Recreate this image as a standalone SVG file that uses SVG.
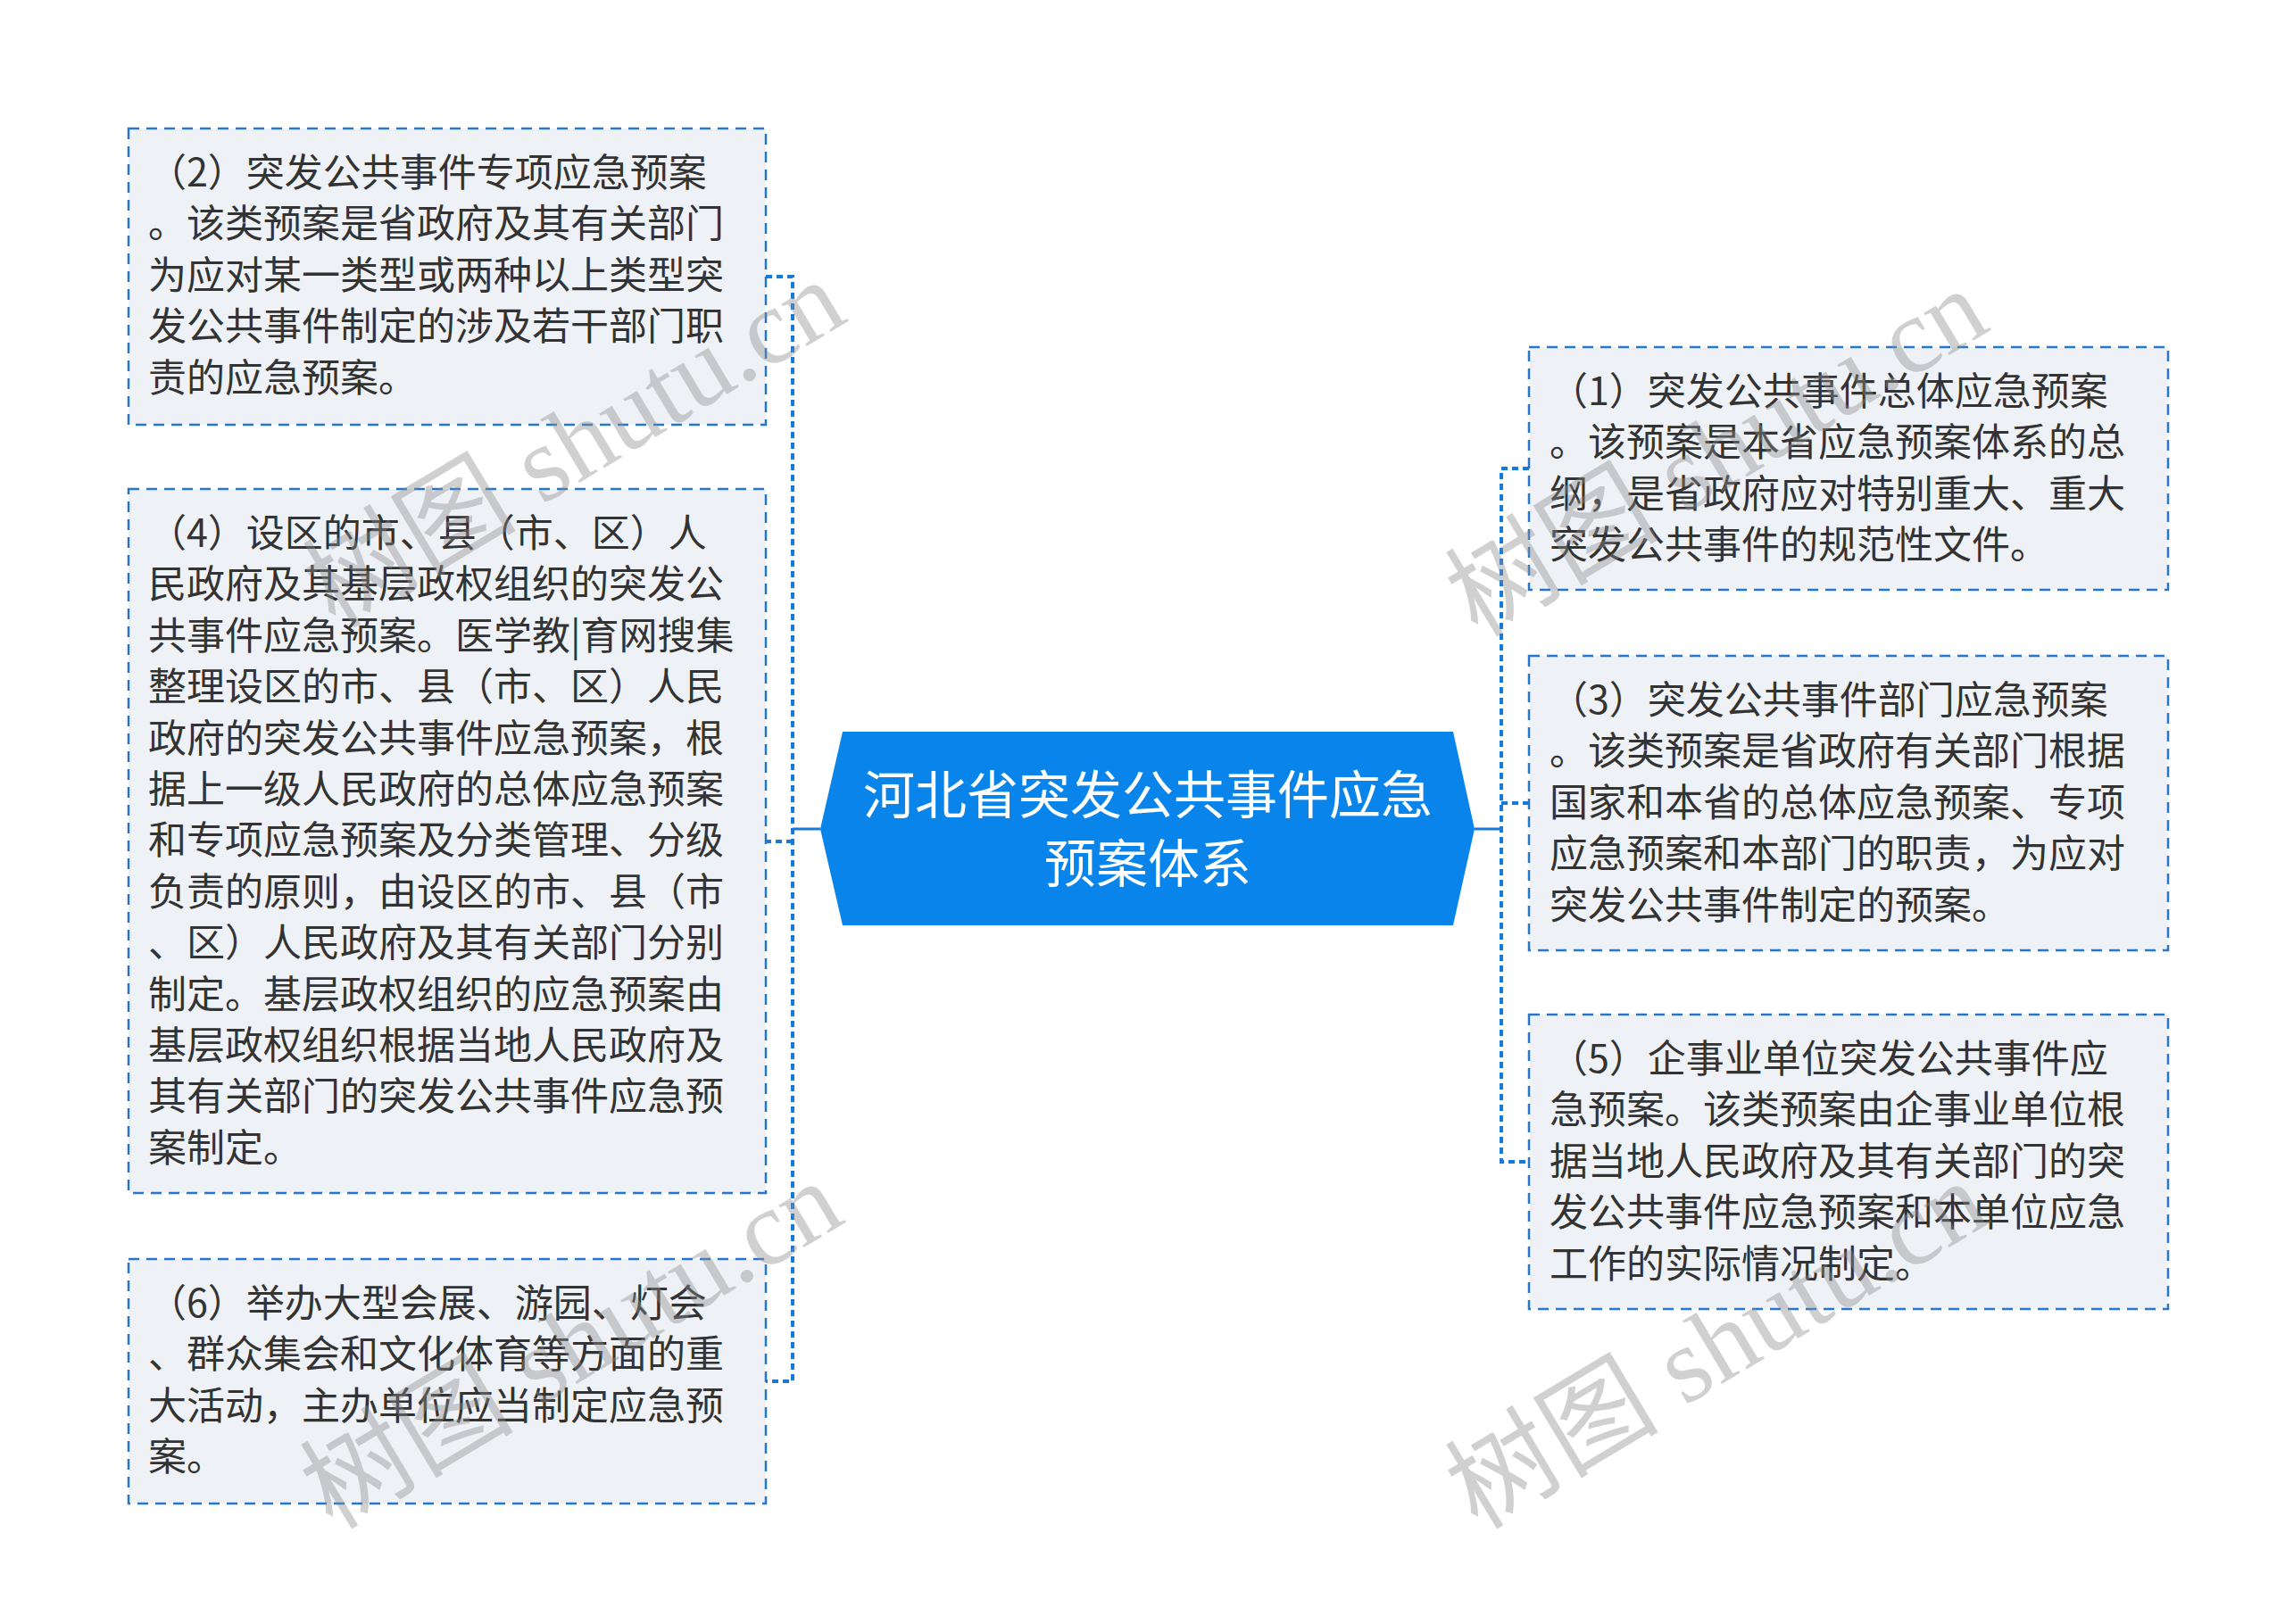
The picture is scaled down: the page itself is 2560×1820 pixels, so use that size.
<svg xmlns="http://www.w3.org/2000/svg" width="2560" height="1820" viewBox="0 0 2560 1820">
<style>
.box{fill:#eef2f6;stroke:#2677cc;stroke-width:2.5;stroke-dasharray:12 8}
.t{font-family:"Noto Sans CJK SC","Noto Sans",sans-serif;font-size:43px;fill:#333333}
.ct{font-family:"Noto Sans CJK SC","Noto Sans",sans-serif;font-size:58px;fill:#ffffff;text-anchor:middle}
.br{fill:none;stroke:#1a78d6;stroke-width:4;stroke-dasharray:7 5}
.sl{fill:none;stroke:#1a78d6;stroke-width:3}
.wm{font-family:"Liberation Serif","Noto Sans CJK SC",serif;font-size:120px;fill:#8c8c8c;opacity:0.4}
</style>
<rect width="2560" height="1820" fill="#ffffff"/>
<g id="connectors">
<path class="sl" d="M919,929 H888"/>
<path class="br" d="M858,310 H888 V1548 H858"/>
<path class="br" d="M888,943 H858"/>
<path class="sl" d="M1652,929 H1682"/>
<path class="br" d="M1713,525 H1682 V1302 H1713"/>
<path class="br" d="M1682,900 H1713"/>
</g>
<g id="center">
<polygon points="944,820 1628,820 1652,929 1628,1037 944,1037 919,929" fill="#0984ea"/>
<text class="ct" x="1286" y="912">河北省突发公共事件应急</text>
<text class="ct" x="1286" y="989">预案体系</text>
</g>
<g id="node2">
<rect class="box" x="144" y="144" width="714" height="332"/>
<text class="t" x="166" y="209">（2）突发公共事件专项应急预案</text>
<text class="t" x="166" y="266">。该类预案是省政府及其有关部门</text>
<text class="t" x="166" y="324">为应对某一类型或两种以上类型突</text>
<text class="t" x="166" y="381">发公共事件制定的涉及若干部门职</text>
<text class="t" x="166" y="439">责的应急预案。</text>
</g>
<g id="node4">
<rect class="box" x="144" y="548" width="714" height="789"/>
<text class="t" x="166" y="613">（4）设区的市、县（市、区）人</text>
<text class="t" x="166" y="670">民政府及其基层政权组织的突发公</text>
<text class="t" x="166" y="728">共事件应急预案。医学教|育网搜集</text>
<text class="t" x="166" y="785">整理设区的市、县（市、区）人民</text>
<text class="t" x="166" y="843">政府的突发公共事件应急预案，根</text>
<text class="t" x="166" y="900">据上一级人民政府的总体应急预案</text>
<text class="t" x="166" y="957">和专项应急预案及分类管理、分级</text>
<text class="t" x="166" y="1015">负责的原则，由设区的市、县（市</text>
<text class="t" x="166" y="1072">、区）人民政府及其有关部门分别</text>
<text class="t" x="166" y="1130">制定。基层政权组织的应急预案由</text>
<text class="t" x="166" y="1187">基层政权组织根据当地人民政府及</text>
<text class="t" x="166" y="1244">其有关部门的突发公共事件应急预</text>
<text class="t" x="166" y="1302">案制定。</text>
</g>
<g id="node6">
<rect class="box" x="144" y="1411" width="714" height="274"/>
<text class="t" x="166" y="1476">（6）举办大型会展、游园、灯会</text>
<text class="t" x="166" y="1533">、群众集会和文化体育等方面的重</text>
<text class="t" x="166" y="1591">大活动，主办单位应当制定应急预</text>
<text class="t" x="166" y="1648">案。</text>
</g>
<g id="node1">
<rect class="box" x="1713" y="389" width="716" height="272"/>
<text class="t" x="1736" y="454">（1）突发公共事件总体应急预案</text>
<text class="t" x="1736" y="511">。该预案是本省应急预案体系的总</text>
<text class="t" x="1736" y="569">纲，是省政府应对特别重大、重大</text>
<text class="t" x="1736" y="626">突发公共事件的规范性文件。</text>
</g>
<g id="node3">
<rect class="box" x="1713" y="735" width="716" height="330"/>
<text class="t" x="1736" y="800">（3）突发公共事件部门应急预案</text>
<text class="t" x="1736" y="857">。该类预案是省政府有关部门根据</text>
<text class="t" x="1736" y="915">国家和本省的总体应急预案、专项</text>
<text class="t" x="1736" y="972">应急预案和本部门的职责，为应对</text>
<text class="t" x="1736" y="1030">突发公共事件制定的预案。</text>
</g>
<g id="node5">
<rect class="box" x="1713" y="1137" width="716" height="330"/>
<text class="t" x="1736" y="1202">（5）企事业单位突发公共事件应</text>
<text class="t" x="1736" y="1259">急预案。该类预案由企事业单位根</text>
<text class="t" x="1736" y="1317">据当地人民政府及其有关部门的突</text>
<text class="t" x="1736" y="1374">发公共事件应急预案和本单位应急</text>
<text class="t" x="1736" y="1432">工作的实际情况制定。</text>
</g>
<g id="watermarks">
<text class="wm" text-anchor="middle" transform="translate(664,532) rotate(-31)">树图 shutu.cn</text>
<text class="wm" text-anchor="middle" transform="translate(1944,542) rotate(-31)">树图 shutu.cn</text>
<text class="wm" text-anchor="middle" transform="translate(661,1542) rotate(-31)">树图 shutu.cn</text>
<text class="wm" text-anchor="middle" transform="translate(1944,1542) rotate(-31)">树图 shutu.cn</text>
</g>
</svg>
